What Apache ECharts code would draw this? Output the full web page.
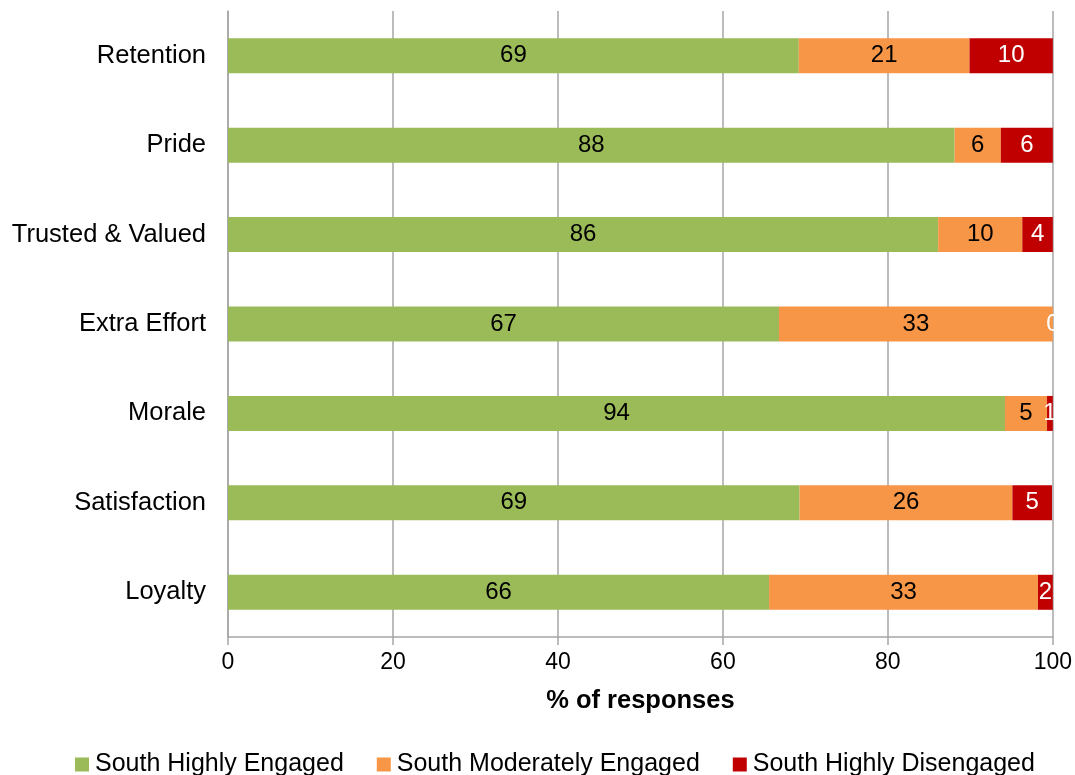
<!DOCTYPE html>
<html>
<head>
<meta charset="utf-8">
<script src="https://cdn.jsdelivr.net/npm/echarts@6/dist/echarts.min.js"></script>
<style>
  html, body { margin: 0; padding: 0; background: #fff; }
  #chart { width: 1075px; height: 775px; }
</style>
</head>
<body>
<div id="chart"></div>
<script>
const categories = ['Retention', 'Pride', 'Trusted & Valued', 'Extra Effort', 'Morale', 'Satisfaction', 'Loyalty'];
const highlyEngaged = [69.2, 88.1, 86.1, 66.8, 94.2, 69.3, 65.6];
const moderatelyEngaged = [20.7, 5.6, 10.2, 33.2, 5.1, 25.8, 32.6];
const highlyDisengaged = [10.1, 6.3, 3.8, 0, 0.7, 4.8, 1.8];
const xTicks = [0, 20, 40, 60, 80, 100];

const font = 'Liberation Sans, Arial, sans-serif';

function barSeries(name, data, color, labelColor) {
  return {
    name: name,
    type: 'bar',
    stack: 'total',
    data: data,
    barWidth: 35,
    itemStyle: { color: color },
    label: {
      show: true,
      position: 'inside',
      color: labelColor,
      fontSize: 24,
      fontFamily: font,
      formatter: (p) => Math.round(p.value),
    },
  };
}

const option = {
  backgroundColor: '#fff',
  animation: false,
  textStyle: { fontFamily: font },
  grid: {
    left: 228,
    right: 22,
    top: 11,
    bottom: 138,
  },
  xAxis: {
    type: 'value',
    min: 0,
    max: 100,
    interval: 20,
    name: '% of responses',
    nameLocation: 'middle',
    nameGap: 51,
    nameTextStyle: { fontSize: 25.5, fontWeight: 'bold', color: '#000', fontFamily: font },
    axisLabel: {
      fontSize: 23,
      color: '#000',
      margin: 14,
      formatter: (v) => (xTicks.includes(v) ? v : ''),
    },
    axisLine: { show: true, lineStyle: { color: '#a6a6a6', width: 1.5 } },
    axisTick: { show: true, length: 8, lineStyle: { color: '#a6a6a6', width: 1.5 } },
    splitLine: { show: true, lineStyle: { color: '#a6a6a6', width: 1.5 } },
  },
  yAxis: {
    type: 'category',
    data: categories,
    inverse: true,
    axisLabel: { fontSize: 25.5, color: '#000', margin: 22 },
    axisLine: { show: true, lineStyle: { color: '#a6a6a6', width: 1.5 } },
    axisTick: { show: false },
  },
  legend: {
    top: 747,
    left: 70,
    itemWidth: 14,
    itemHeight: 14,
    itemGap: 33,
    icon: 'rect',
    textStyle: { fontSize: 25, color: '#000', fontFamily: font, padding: [0, 0, 0, 1] },
  },
  series: [
    barSeries('South Highly Engaged', highlyEngaged, '#9BBB59', '#000'),
    barSeries('South Moderately Engaged', moderatelyEngaged, '#F79646', '#000'),
    barSeries('South Highly Disengaged', highlyDisengaged, '#C00000', '#fff'),
  ],
};

const chart = echarts.init(document.getElementById('chart'));
chart.setOption(option);
</script>
</body>
</html>
